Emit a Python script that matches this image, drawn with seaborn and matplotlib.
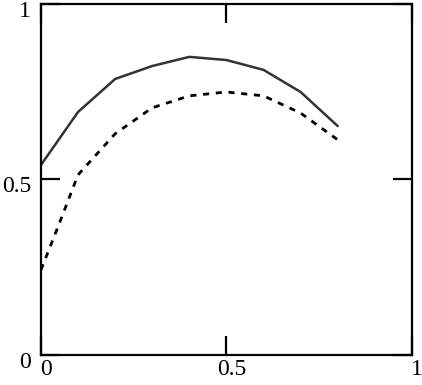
import numpy as np
import pandas as pd
import seaborn as sns
import matplotlib
matplotlib.use("Agg")
import matplotlib.pyplot as plt
from matplotlib.transforms import ScaledTranslation

# Data
x_solid = [0.0, 0.1, 0.2, 0.3, 0.4, 0.5, 0.6, 0.7, 0.8]
y_solid = [0.541, 0.692, 0.786, 0.823, 0.849, 0.840, 0.812, 0.749, 0.652]

x_dashed = [0.0, 0.05, 0.1, 0.2, 0.3, 0.4, 0.5, 0.6, 0.7, 0.8]
y_dashed = [0.242, 0.376, 0.513, 0.630, 0.704, 0.738, 0.749, 0.738, 0.689, 0.613]

ticks = [0, 0.5, 1]
tick_labels = ["0", "0.5", "1"]

sns.set_style("ticks")
plt.rcParams['font.family'] = ['Liberation Serif', 'DejaVu Serif']

fig = plt.figure(figsize=(4.22, 3.85), dpi=100)
ax = fig.add_axes([0.097, 0.078, 0.879, 0.912])

df_solid = pd.DataFrame({"x": x_solid, "y": y_solid})
df_dashed = pd.DataFrame({"x": x_dashed, "y": y_dashed})

sns.lineplot(data=df_solid, x="x", y="y", ax=ax, color="#333333", linewidth=1.8)
sns.lineplot(data=df_dashed, x="x", y="y", ax=ax, color="black", linewidth=2.0,
             linestyle=(0, (2.2, 2.4)))

ax.set_xlim(0, 1)
ax.set_ylim(0, 1)
ax.set_xticks(ticks)
ax.set_xticklabels(tick_labels)
ax.set_yticks(ticks)
ax.set_yticklabels(tick_labels)
ax.set_xlabel("")
ax.set_ylabel("")

for s in ax.spines.values():
    s.set_visible(True)
    s.set_linewidth(1.6)
    s.set_color("black")

ax.tick_params(direction="in", length=14, width=1.6, colors="black",
               top=True, right=True, labelsize=17)
ax.tick_params(axis="x", pad=3)
ax.tick_params(axis="y", pad=7)

# labels in the reference sit a little off their ticks
xshift = ScaledTranslation(5 / 100, 0, fig.dpi_scale_trans)
yshift = ScaledTranslation(0, -5 / 100, fig.dpi_scale_trans)
for lab in ax.get_xticklabels():
    lab.set_transform(lab.get_transform() + xshift)
for lab in ax.get_yticklabels():
    lab.set_transform(lab.get_transform() + yshift)

fig.savefig("out.png", dpi=100)
